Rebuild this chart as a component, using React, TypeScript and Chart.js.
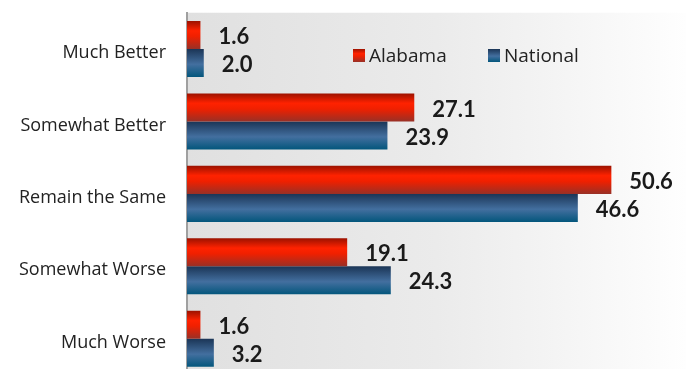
import React, { useEffect, useRef } from "react";
import { Chart, registerables } from "chart.js";

Chart.register(...registerables);

const categories = ["Much Better", "Somewhat Better", "Remain the Same", "Somewhat Worse", "Much Worse"];
const alabama = [1.6, 27.1, 50.6, 19.1, 1.6];
const national = [2.0, 23.9, 46.6, 24.3, 3.2];
const seriesNames = ["Alabama", "National"];

const FONT = "'Open Sans', Lato, sans-serif";
const LABEL_FONT = "Lato, 'Open Sans', sans-serif";

function redGrad(ctx: CanvasRenderingContext2D, top: number, h: number) {
  const g = ctx.createLinearGradient(0, top, 0, top + h);
  g.addColorStop(0, "#9c1200");
  g.addColorStop(0.35, "#ff2200");
  g.addColorStop(0.55, "#f02000");
  g.addColorStop(1, "#993026");
  return g;
}
function blueGrad(ctx: CanvasRenderingContext2D, top: number, h: number) {
  const g = ctx.createLinearGradient(0, top, 0, top + h);
  g.addColorStop(0, "#1b3556");
  g.addColorStop(0.55, "#436f9f");
  g.addColorStop(1, "#03567c");
  return g;
}
const grads = [redGrad, blueGrad];

const gradientPlugin = {
  id: "barGradients",
  beforeDraw(chart: any) {
    const { ctx, chartArea } = chart;
    if (!chartArea) return;
    const g = ctx.createLinearGradient(chartArea.left, 0, chartArea.right, 0);
    g.addColorStop(0, "#e0e0e0");
    g.addColorStop(0.5, "#ebebeb");
    g.addColorStop(1, "#fefefe");
    ctx.save();
    ctx.fillStyle = g;
    ctx.fillRect(chartArea.left, chartArea.top, chartArea.right - chartArea.left, chartArea.bottom - chartArea.top);
    ctx.restore();
  },
  beforeDatasetsDraw(chart: any) {
    const ctx = chart.ctx;
    chart.data.datasets.forEach((_ds: any, di: number) => {
      const meta = chart.getDatasetMeta(di);
      meta.data.forEach((el: any) => {
        const top = el.y - el.height / 2;
        try {
          el.options.backgroundColor = grads[di](ctx, top, el.height);
        } catch (e) {}
      });
    });
  },
  afterDatasetsDraw(chart: any) {
    const ctx = chart.ctx;
    ctx.save();
    ctx.font = `bold 22px ${LABEL_FONT}`;
    ctx.fillStyle = "#1a1a1a";
    ctx.textAlign = "left";
    ctx.textBaseline = "middle";
    chart.data.datasets.forEach((ds: any, di: number) => {
      const meta = chart.getDatasetMeta(di);
      meta.data.forEach((el: any, i: number) => {
        ctx.fillText(Number(ds.data[i]).toFixed(1), el.x + 18, el.y + 2);
      });
    });
    // legend
    ctx.font = `19px ${FONT}`;
    const items = [
      { x: 353, tx: 369 },
      { x: 488, tx: 504 },
    ];
    items.forEach((it, i) => {
      ctx.fillStyle = grads[i](ctx, 49, 13);
      ctx.fillRect(it.x, 49, 12, 13);
      ctx.fillStyle = "#222";
      ctx.fillText(seriesNames[i], it.tx, 57);
    });
    ctx.restore();
  },
};

export default function App() {
  const ref = useRef<HTMLCanvasElement>(null);
  useEffect(() => {
    document.body.style.margin = "0";
    document.body.style.overflow = "hidden";
    const chart = new Chart(ref.current!, {
      type: "bar",
      data: {
        labels: categories,
        datasets: [
          { label: seriesNames[0], data: alabama, backgroundColor: () => "#ff2200", borderWidth: 0 },
          { label: seriesNames[1], data: national, backgroundColor: () => "#436f9f", borderWidth: 0 },
        ],
      },
      options: {
        indexAxis: "y",
        animation: false,
        responsive: false,
        maintainAspectRatio: false,
        events: [],
        layout: { padding: { top: 12.75, right: 0, bottom: 0, left: 0 } },
        datasets: { bar: { categoryPercentage: 0.773, barPercentage: 1.0 } },
        plugins: { legend: { display: false }, tooltip: { enabled: false } },
        scales: {
          x: { display: false, min: 0, max: 59.5 },
          y: {
            grid: { display: false, drawTicks: true, tickLength: 21 },
            border: { display: true, color: "#a0a0a0", width: 2 },
            ticks: { color: "#222", font: { family: FONT, size: 18 }, padding: 0, labelOffset: 4 },
            afterFit(scale: any) {
              scale.width = 187;
              scale.paddingTop = 0;
              scale.paddingBottom = 0;
            },
          },
        },
      },
      plugins: [gradientPlugin],
    });
    return () => chart.destroy();
  }, []);
  return (
    <div style={{ width: 686, height: 369, overflow: "hidden", background: "#fff" }}>
      <canvas ref={ref} width={686} height={375} style={{ display: "block" }} />
    </div>
  );
}
